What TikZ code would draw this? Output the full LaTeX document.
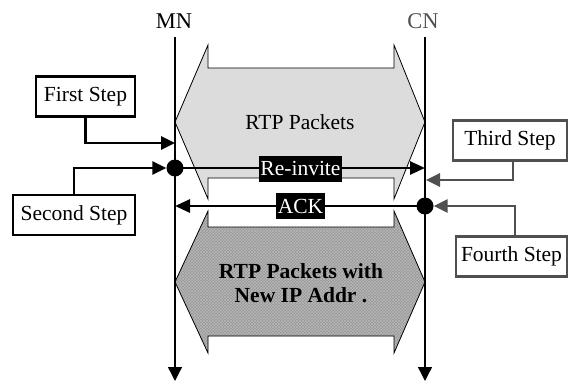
\documentclass[tikz,border=0pt]{standalone}
\usepackage{fontspec}
\setmainfont{Liberation Serif}
\usetikzlibrary{arrows.meta,patterns}
\definecolor{lightfill}{RGB}{220,220,220}
\definecolor{darkfill}{RGB}{150,150,150}
\definecolor{hatch}{RGB}{185,185,185}
\definecolor{stepgray}{RGB}{80,80,80}
\begin{document}
\begin{tikzpicture}[x=1pt,y=-1pt,
  txt/.style={font=\fontsize{21.5}{24}\selectfont},
  stepbox/.style={txt,draw,line width=2.6pt,inner sep=0pt,minimum height=40pt},
  lifeline/.style={line width=1.3pt,-{Triangle[length=14pt,width=14pt]}},
  msg/.style={line width=2.6pt,-{Triangle[length=15pt,width=13pt]}},
  steparrow/.style={line width=2.6pt,-{Triangle[length=14pt,width=13pt]}},
  tag/.style={txt,fill=black,text=white,inner xsep=1.5pt,inner ysep=0pt,minimum height=26pt},
  hexline/.style={draw=black,line width=0.8pt},
  dot/.style={circle,fill=black,inner sep=0pt,minimum size=17pt}]
\useasboundingbox (0,0) rectangle (568,381);
% lifelines
\node[txt,font=\fontsize{22.5}{24}\selectfont,anchor=base] (mn) at (174,28) {MN};
\node[txt,font=\fontsize{22.5}{24}\selectfont,anchor=base,text=stepgray] (cn) at (423,28) {CN};
\coordinate (mntop) at (175,37);
\coordinate (mnbot) at (175,381);
\coordinate (cntop) at (425,37);
\coordinate (cnbot) at (425,381);
% top hexagon
\path[hexline,fill=lightfill] (175,122) -- (208,45) -- (208,68) -- (394,68) -- (394,45) -- (425,122)
  -- (394,199) -- (394,178) -- (208,178) -- (208,199) -- cycle;
\node[txt] (rtp) at (300,122) {RTP Packets};
% bottom hexagon
\fill[darkfill] (175,282) -- (208,211) -- (208,227) -- (394,227) -- (394,211) -- (425,282)
  -- (394,353) -- (394,336) -- (208,336) -- (208,353) -- cycle;
\fill[pattern=crosshatch,pattern color=hatch] (175,282) -- (208,211) -- (208,227) -- (394,227) -- (394,211) -- (425,282)
  -- (394,353) -- (394,336) -- (208,336) -- (208,353) -- cycle;
\draw[hexline] (175,282) -- (208,211) -- (208,227) -- (394,227) -- (394,211) -- (425,282)
  -- (394,353) -- (394,336) -- (208,336) -- (208,353) -- cycle;
\node[txt,font=\fontsize{21.5}{24}\selectfont\bfseries,align=center] (rtpnew) at (301,283) {RTP Packets with\\New IP Addr .};
% lifeline lines
\draw[lifeline] (mntop) -- (mnbot);
\draw[lifeline] (cntop) -- (cnbot);
% messages
\node[dot] (d1) at (175,168) {};
\node[dot] (d2) at (425,206) {};
\coordinate (cnmsg) at (425,168);
\coordinate (mnmsg) at (175,206);
\draw[msg] (d1.center) -- (cnmsg);
\draw[msg] (d2.center) -- (mnmsg);
\node[tag] (reinv) at (300.5,168.5) {Re-invite};
\node[tag] (ack) at (300.5,206) {ACK};
% steps
\node[stepbox,minimum width=99pt] (first) at (85.5,96.5) {First Step};
\node[stepbox,minimum width=122pt] (second) at (74,215) {Second Step};
\node[stepbox,draw=stepgray,minimum width=114pt] (third) at (510,140.5) {Third Step};
\node[stepbox,draw=stepgray,minimum width=111pt] (fourth) at (511.5,256.5) {Fourth Step};
\coordinate (f1) at (175,143);
\coordinate (f3) at (426,180);
\draw[steparrow] (first.south) |- (f1);
\draw[steparrow] (second.north) |- (d1.west);
\draw[steparrow,draw=stepgray] ([xshift=3pt]third.south) |- (f3);
\draw[steparrow,draw=stepgray] ([xshift=3.5pt]fourth.north) |- (d2.east);
\end{tikzpicture}
\end{document}
